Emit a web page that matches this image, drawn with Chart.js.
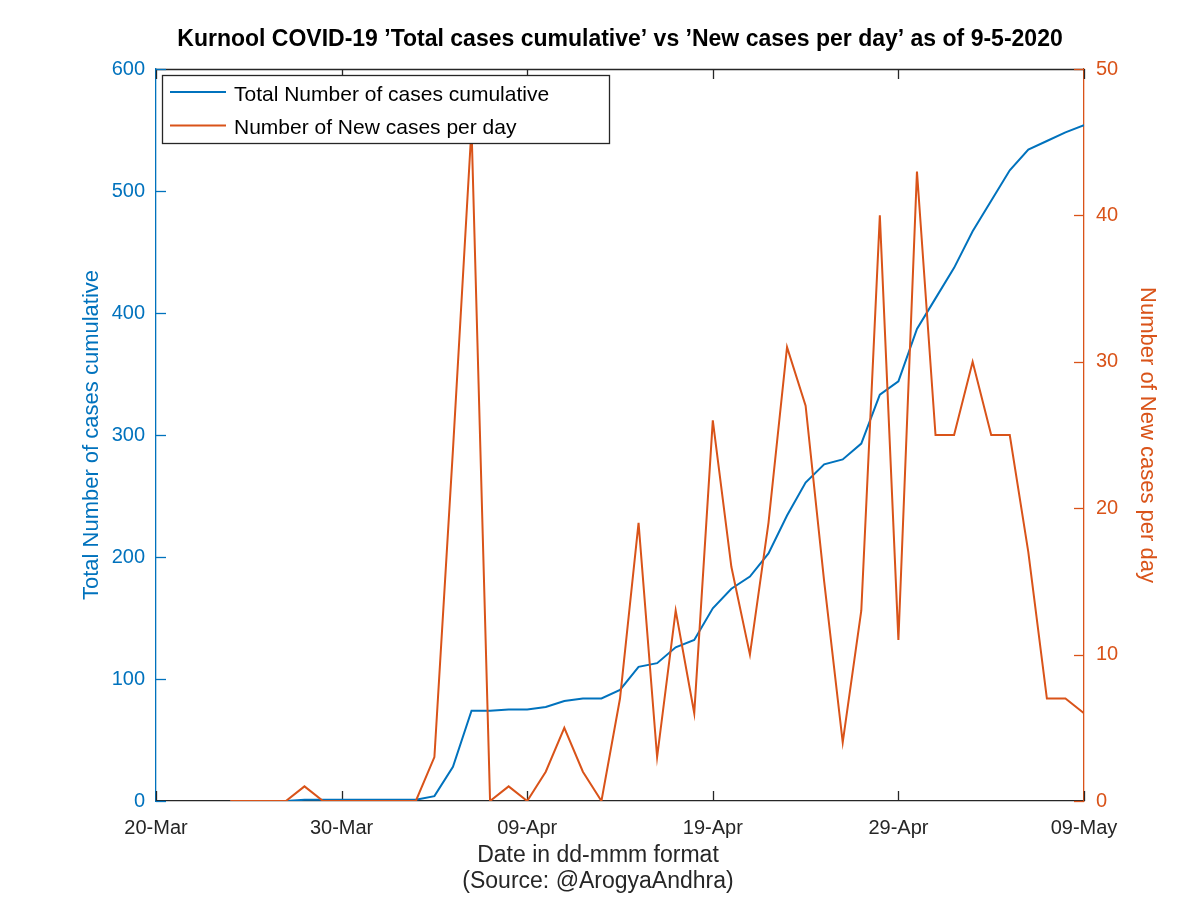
<!DOCTYPE html>
<html>
<head>
<meta charset="utf-8">
<script src="https://cdn.jsdelivr.net/npm/chart.js@4"></script>
<style>
  html, body { margin: 0; padding: 0; background: #fff; }
  canvas { display: block; }
</style>
</head>
<body>
<canvas id="covidChart" width="1200" height="898"></canvas>
<script>
const startDate = '2020-03-20';

const dates = [
    '2020-03-24','2020-03-25','2020-03-26','2020-03-27','2020-03-28','2020-03-29','2020-03-30',
    '2020-03-31','2020-04-01','2020-04-02','2020-04-03','2020-04-04','2020-04-05','2020-04-06',
    '2020-04-07','2020-04-08','2020-04-09','2020-04-10','2020-04-11','2020-04-12','2020-04-13',
    '2020-04-14','2020-04-15','2020-04-16','2020-04-17','2020-04-18','2020-04-19','2020-04-20',
    '2020-04-21','2020-04-22','2020-04-23','2020-04-24','2020-04-25','2020-04-26','2020-04-27',
    '2020-04-28','2020-04-29','2020-04-30','2020-05-01','2020-05-02','2020-05-03','2020-05-04',
    '2020-05-05','2020-05-06','2020-05-07','2020-05-08','2020-05-09'
];

const totalCases = [
    0,0,0,0,1,1,1,
    1,1,1,1,4,28,74,
    74,75,75,77,82,84,84,
    91,110,113,126,132,158,174,
    184,203,234,261,276,280,293,
    333,344,387,412,437,467,492,
    517,534,541,548,554
];

const newCases = [
    0,0,0,0,1,0,0,
    0,0,0,0,3,24,46,
    0,1,0,2,5,2,0,
    7,19,3,13,6,26,16,
    10,19,31,27,15,4,13,
    40,11,43,25,25,30,25,
    25,17,7,7,6
];

const tickLabels = ['20-Mar','30-Mar','09-Apr','19-Apr','29-Apr','09-May'];
const chartTitle = 'Kurnool COVID-19 \u2019Total cases cumulative\u2019 vs \u2019New cases per day\u2019 as of 9-5-2020';
const xTitle = ['Date in dd-mmm format', '(Source: @ArogyaAndhra)'];

const BLUE = '#0072BD';
const ORANGE = '#D95319';
const DARK = '#262626';
const FONT = "'Liberation Sans', Arial, Helvetica, sans-serif";

// day number since start date, used as the x value
const dayOf = d => Math.round((new Date(d) - new Date(startDate)) / 864e5);

const totalPoints = dates.map((d, i) => ({ x: dayOf(d), y: totalCases[i] }));
const newPoints = dates.map((d, i) => ({ x: dayOf(d), y: newCases[i] }));

// MATLAB style box with inward ticks, plus title and x label centred on the axes
const frame = {
    id: 'frame',
    beforeDatasetsDraw(chart) {
        const { ctx, chartArea: a, scales } = chart;
        const seg = (x1, y1, x2, y2, c) => {
            ctx.strokeStyle = c;
            ctx.beginPath(); ctx.moveTo(x1, y1); ctx.lineTo(x2, y2); ctx.stroke();
        };
        ctx.save();
        ctx.lineWidth = 1.3;
        seg(a.left, a.top + 0.5, a.right, a.top + 0.5, DARK);
        scales.x.ticks.forEach(t => {
            const px = Math.round(scales.x.getPixelForValue(t.value)) + 0.5;
            seg(px, a.bottom, px, a.bottom - 10, DARK);
            seg(px, a.top, px, a.top + 10, DARK);
        });
        scales.y.ticks.forEach(t => {
            const py = Math.round(scales.y.getPixelForValue(t.value)) + 0.5;
            seg(a.left, py, a.left + 10, py, BLUE);
        });
        scales.y1.ticks.forEach(t => {
            const py = Math.round(scales.y1.getPixelForValue(t.value)) + 0.5;
            seg(a.right, py, a.right - 10, py, ORANGE);
        });
        ctx.restore();
    },
    afterDraw(chart) {
        const { ctx, chartArea: a } = chart;
        const mid = (a.left + a.right) / 2;
        ctx.save();
        ctx.textAlign = 'center';
        ctx.textBaseline = 'middle';
        ctx.fillStyle = '#000';
        ctx.font = 'bold 23px ' + FONT;
        ctx.fillText(chartTitle, mid, 40);
        // x label sits a little left of the axes centre in the original
        ctx.font = '23px ' + FONT;
        ctx.fillStyle = DARK;
        xTitle.forEach((t, i) => ctx.fillText(t, mid - 22, a.bottom + 55 + i * 26));
        ctx.restore();
    }
};

// legend box inside the plot, top left
const boxLegend = {
    id: 'boxLegend',
    afterDatasetsDraw(chart) {
        const { ctx, chartArea: a } = chart;
        const x = a.left + 6, y = a.top + 6, w = 447, h = 68;
        ctx.save();
        ctx.fillStyle = '#fff';
        ctx.fillRect(x, y, w, h);
        ctx.strokeStyle = DARK;
        ctx.lineWidth = 1.3;
        ctx.strokeRect(x + 0.5, y + 0.5, w, h);
        ctx.font = '21px ' + FONT;
        ctx.textBaseline = 'middle';
        chart.data.datasets.forEach((ds, i) => {
            const ly = y + 17 + i * 33.5;
            ctx.strokeStyle = ds.borderColor;
            ctx.lineWidth = 2;
            ctx.beginPath(); ctx.moveTo(x + 8, ly); ctx.lineTo(x + 64, ly); ctx.stroke();
            ctx.fillStyle = '#000';
            ctx.fillText(ds.label, x + 72, ly + 3);
        });
        ctx.restore();
    }
};

const ctx = document.getElementById('covidChart').getContext('2d');

const config = {
    type: 'line',
    data: {
        datasets: [{
            label: 'Total Number of cases cumulative',
            data: totalPoints,
            yAxisID: 'y',
            borderColor: BLUE,
            borderWidth: 2,
            pointRadius: 0,
            tension: 0,
            order: 1
        }, {
            label: 'Number of New cases per day',
            data: newPoints,
            yAxisID: 'y1',
            borderColor: ORANGE,
            borderWidth: 2,
            pointRadius: 0,
            tension: 0,
            order: 0
        }]
    },
    options: {
        responsive: false,
        animation: false,
        layout: { padding: { top: 69, left: 0, right: 0, bottom: 0 } },
        plugins: {
            legend: { display: false },
            tooltip: { enabled: false },
            title: { display: false }
        },
        scales: {
            x: {
                type: 'linear',
                min: 0,
                max: 50,
                afterBuildTicks: s => { s.ticks = tickLabels.map((_, i) => ({ value: i * 10 })); },
                afterFit: s => { s.height = 97; },
                grid: { display: false },
                border: { display: true, color: DARK, width: 1.3 },
                ticks: {
                    color: DARK,
                    padding: 7,
                    maxRotation: 0,
                    font: { family: FONT, size: 20 },
                    callback: (v, i) => tickLabels[i]
                }
            },
            y: {
                position: 'left',
                min: 0,
                max: 600,
                afterFit: s => { s.width = 156; },
                grid: { display: false },
                border: { display: true, color: BLUE, width: 1.3 },
                ticks: {
                    stepSize: 100,
                    color: BLUE,
                    padding: 3,
                    font: { family: FONT, size: 20 }
                },
                title: {
                    display: true,
                    text: 'Total Number of cases cumulative',
                    color: BLUE,
                    font: { family: FONT, size: 22, lineHeight: '26px' },
                    padding: { top: 79, bottom: 0 }
                }
            },
            y1: {
                position: 'right',
                min: 0,
                max: 50,
                afterFit: s => { s.width = 116; },
                grid: { display: false },
                border: { display: true, color: ORANGE, width: 1.3 },
                ticks: {
                    stepSize: 10,
                    color: ORANGE,
                    padding: 4,
                    font: { family: FONT, size: 20 }
                },
                title: {
                    display: true,
                    text: 'Number of New cases per day',
                    color: ORANGE,
                    font: { family: FONT, size: 22, lineHeight: '26px' },
                    padding: { top: 40, bottom: 0 }
                }
            }
        }
    },
    plugins: [frame, boxLegend]
};

const covidChart = new Chart(ctx, config);
</script>
</body>
</html>
